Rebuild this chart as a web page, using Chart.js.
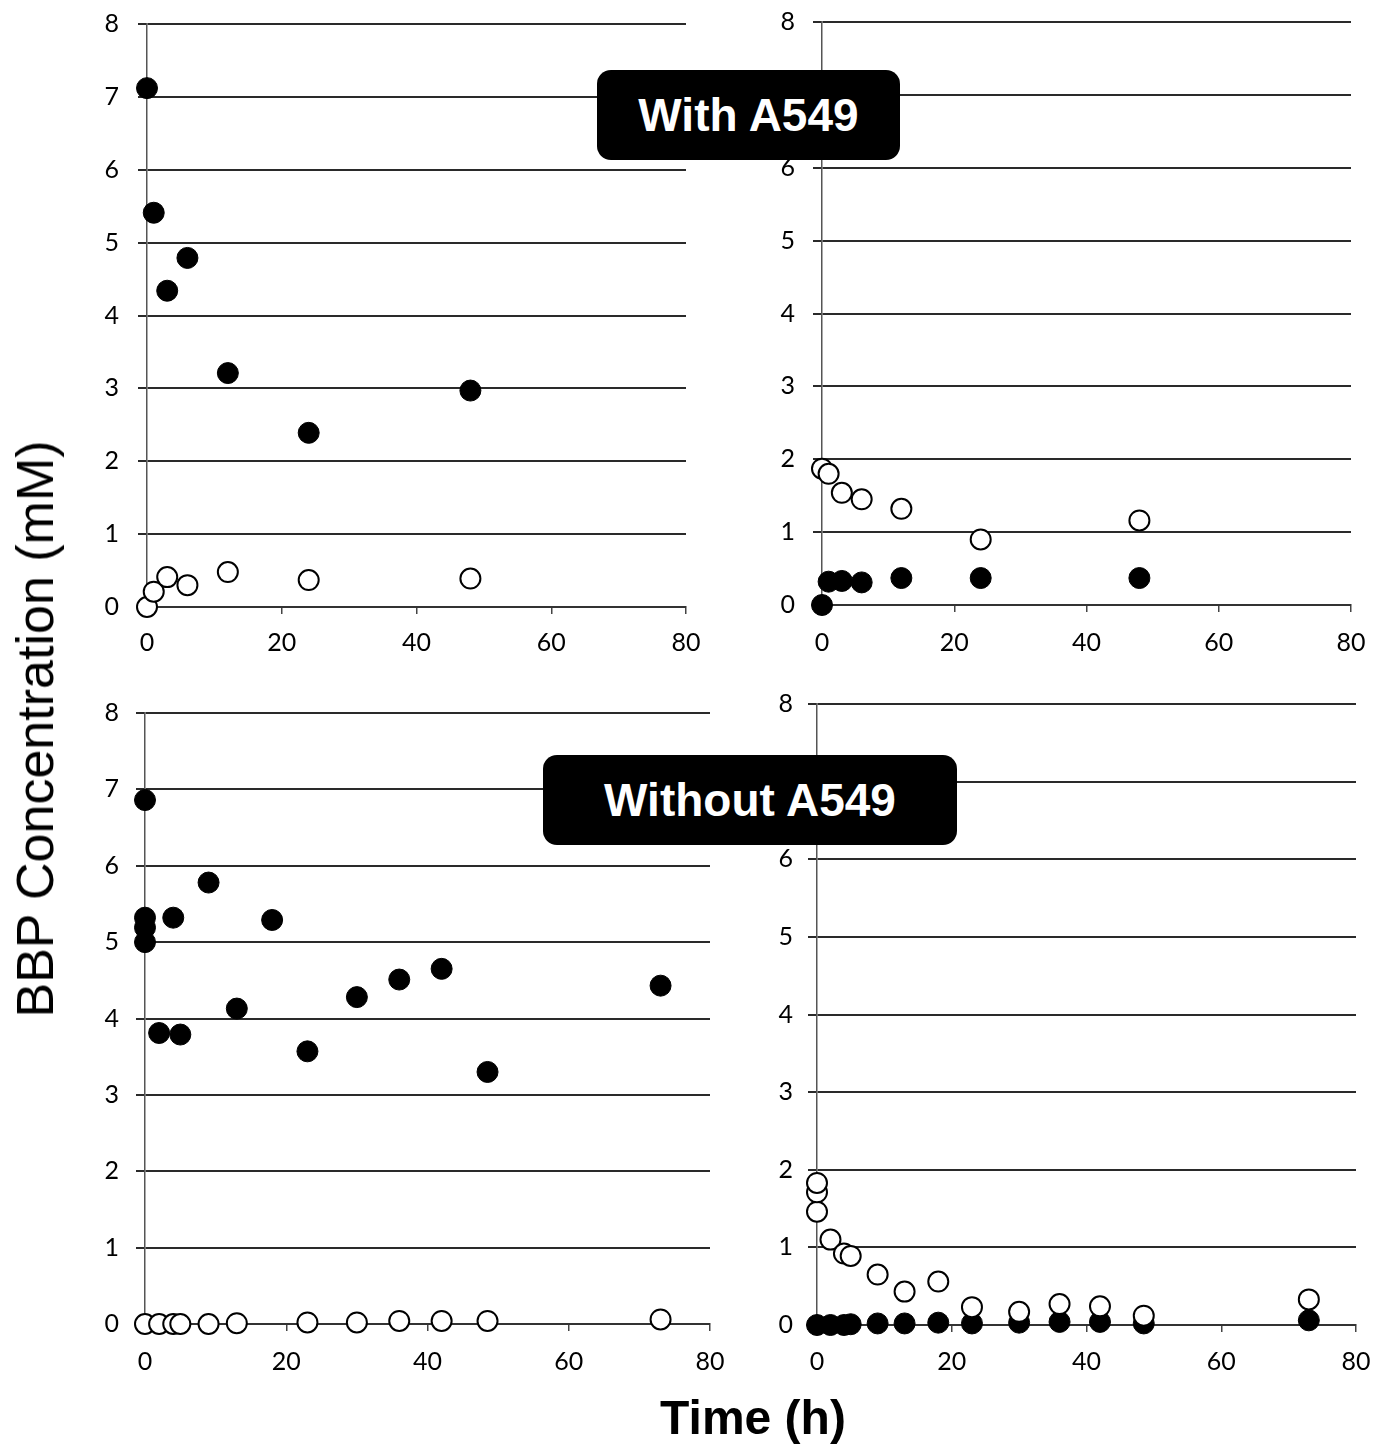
<!DOCTYPE html>
<html>
<head>
<meta charset="utf-8">
<script src="https://cdn.jsdelivr.net/npm/chart.js@4/dist/chart.umd.min.js"></script>
<style>
  html, body { margin: 0; padding: 0; background: #fff; }
  body { width: 1374px; height: 1445px; position: relative; overflow: hidden; }
  canvas { position: absolute; }
  .tag {
    position: absolute; background: #000; color: #fff; border-radius: 14px;
    display: flex; align-items: center; justify-content: center;
    font-family: "Liberation Sans", Arial, sans-serif; font-weight: bold; font-size: 46px;
  }
  .ttl { position: absolute; font-family: "Liberation Sans", Arial, sans-serif; color: #000; white-space: nowrap; line-height: 1; }
</style>
</head>
<body>
<canvas id="tl" width="720" height="680" style="left:0;top:0"></canvas>
<canvas id="tr" width="654" height="680" style="left:720px;top:0"></canvas>
<canvas id="bl" width="740" height="720" style="left:0;top:680px"></canvas>
<canvas id="br" width="634" height="720" style="left:740px;top:680px"></canvas>

<div class="tag" style="left:597px;top:70px;width:303px;height:90px">With A549</div>
<div class="tag" style="left:543px;top:755px;width:414px;height:90px">Without A549</div>

<div class="ttl" style="left:35px;top:729px;font-size:52px;transform:translate(-50%,-50%) rotate(-90deg)">BBP Concentration (mM)</div>
<div class="ttl" style="left:753px;top:1418px;font-size:48px;font-weight:bold;transform:translate(-50%,-50%)">Time (h)</div>

<script>
// data
const withTime = [0, 1, 3, 6, 12, 24, 48];
const withLeftFilled = [7.12, 5.41, 4.34, 4.79, 3.21, 2.39, 2.97];
const withLeftOpen = [0, 0.21, 0.41, 0.30, 0.48, 0.37, 0.39];
const withRightOpen = [1.87, 1.80, 1.54, 1.45, 1.32, 0.90, 1.16];
const withRightFilled = [0, 0.32, 0.33, 0.31, 0.37, 0.37, 0.37];

const woLeftFilledTime = [0, 0, 0, 0, 2, 4, 5, 9, 13, 18, 23, 30, 36, 42, 48.5, 73];
const woLeftFilled = [6.86, 5.32, 5.19, 5.00, 3.81, 5.32, 3.79, 5.78, 4.13, 5.29, 3.57, 4.28, 4.51, 4.65, 3.30, 4.43];
const woLeftOpenTime = [0, 2, 4, 5, 9, 13, 23, 30, 36, 42, 48.5, 73];
const woLeftOpen = [0, 0, 0, 0, 0, 0.01, 0.02, 0.02, 0.04, 0.04, 0.04, 0.06];

const woRightOpenTime = [0, 0, 0, 2, 4, 5, 9, 13, 18, 23, 30, 36, 42, 48.5, 73];
const woRightOpen = [1.46, 1.71, 1.83, 1.10, 0.92, 0.89, 0.65, 0.43, 0.56, 0.23, 0.17, 0.27, 0.24, 0.12, 0.33];
const woRightFilledTime = [0, 2, 4, 5, 9, 13, 18, 23, 30, 36, 42, 48.5, 73];
const woRightFilled = [0, 0, 0, 0.01, 0.02, 0.02, 0.03, 0.02, 0.03, 0.04, 0.04, 0.02, 0.06];

const xTicks = [0, 20, 40, 60, 80];
const yTicks = [0, 1, 2, 3, 4, 5, 6, 7, 8];

const tickFont = { family: 'Lato, "Open Sans", sans-serif', size: 25 };

function pts(xs, ys) {
  return xs.map((x, i) => ({ x: x, y: ys[i] }));
}

function openSet(xs, ys) {
  return { data: pts(xs, ys), pointRadius: 10, pointBorderWidth: 2,
    pointBackgroundColor: '#fff', pointBorderColor: '#000', clip: false };
}
function filledSet(xs, ys) {
  return { data: pts(xs, ys), pointRadius: 10.5, pointBorderWidth: 1,
    pointBackgroundColor: '#000', pointBorderColor: '#000', clip: false };
}

// box = canvas position in page, area = plot area in page coords
function makePanel(id, box, area, datasets) {
  const yWidth = area.l - box.left;
  const xHeight = box.top + box.h - area.b;
  new Chart(document.getElementById(id), {
    type: 'scatter',
    data: { datasets: datasets },
    options: {
      responsive: false,
      animation: false,
      events: [],
      layout: { padding: { left: 0, top: area.t - box.top, right: box.left + box.w - area.r, bottom: 0 } },
      plugins: { legend: { display: false }, tooltip: { enabled: false } },
      scales: {
        x: {
          type: 'linear', min: 0, max: 80,
          afterBuildTicks: s => { s.ticks = xTicks.map(v => ({ value: v })); },
          ticks: { font: tickFont, color: '#000', padding: area.xpad, maxRotation: 0 },
          grid: { drawOnChartArea: false, tickLength: 7, color: '#444', lineWidth: 1.5 },
          border: { color: '#333', width: 2 },
          afterFit: s => { s.height = xHeight; s.paddingLeft = 0; s.paddingRight = 0; }
        },
        y: {
          min: 0, max: 8,
          afterBuildTicks: s => { s.ticks = yTicks.map(v => ({ value: v })); },
          ticks: { font: tickFont, color: '#000', padding: area.ypad },
          grid: { color: '#2a2a2a', lineWidth: 2, tickLength: 9 },
          border: { color: '#555', width: 1.5 },
          // keep the plot area where the figure has it
          afterFit: s => { s.width = yWidth; s.paddingTop = 0; s.paddingBottom = 0; }
        }
      }
    }
  });
}

makePanel('tl', { left: 0, top: 0, w: 720, h: 680 },
  { l: 147, r: 686, t: 24, b: 607, xpad: 14, ypad: 19 },
  [openSet(withTime, withLeftOpen), filledSet(withTime, withLeftFilled)]);

makePanel('tr', { left: 720, top: 0, w: 654, h: 680 },
  { l: 822, r: 1351, t: 22, b: 605, xpad: 16, ypad: 18 },
  [filledSet(withTime, withRightFilled), openSet(withTime, withRightOpen)]);

makePanel('bl', { left: 0, top: 680, w: 740, h: 720 },
  { l: 145, r: 710, t: 713, b: 1324, xpad: 16, ypad: 17 },
  [openSet(woLeftOpenTime, woLeftOpen), filledSet(woLeftFilledTime, woLeftFilled)]);

makePanel('br', { left: 740, top: 680, w: 634, h: 720 },
  { l: 817, r: 1356, t: 704, b: 1325, xpad: 15, ypad: 15 },
  [openSet(woRightOpenTime, woRightOpen), filledSet(woRightFilledTime, woRightFilled)]);
</script>
</body>
</html>
